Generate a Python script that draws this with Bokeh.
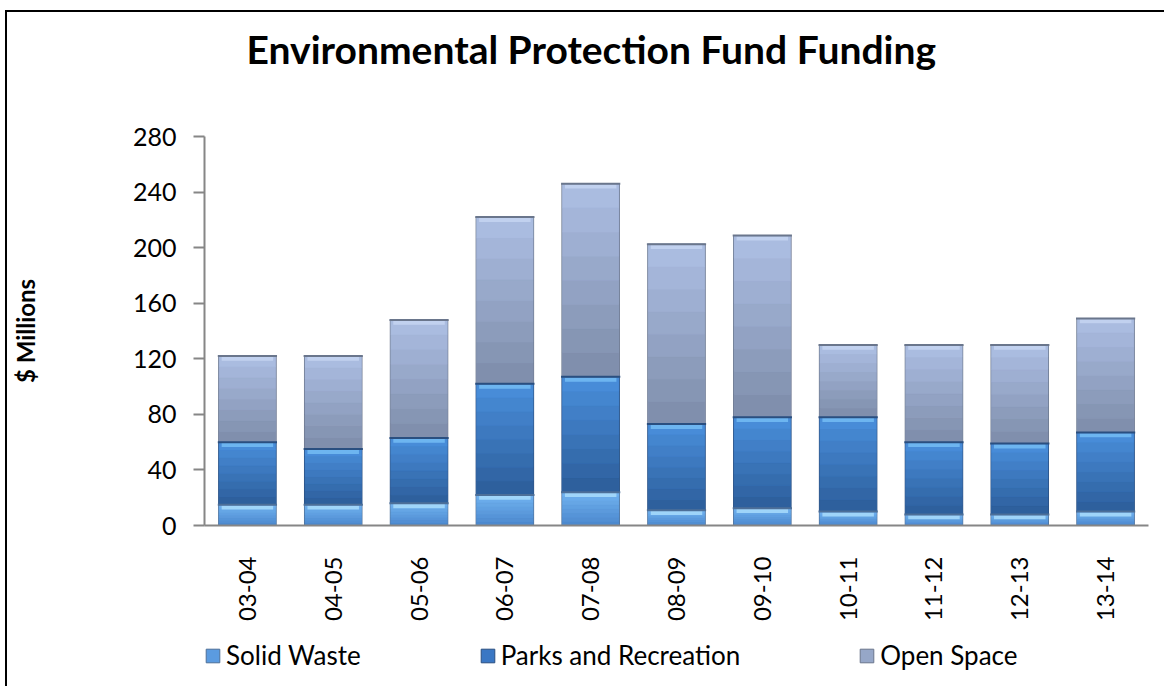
import numpy as np
from bokeh.plotting import figure
from bokeh.layouts import column
from bokeh.models import (FactorRange, Range1d, FixedTicker, Legend, LegendItem,
                          Title, ColumnDataSource)
from bokeh.embed import file_html
from bokeh.resources import INLINE

# ---- data ----
years = ["03-04", "04-05", "05-06", "06-07", "07-08", "08-09",
         "09-10", "10-11", "11-12", "12-13", "13-14"]
solid_waste = [15, 15, 16, 22, 24, 11, 12.5, 10, 8, 8, 10]
parks_rec = [45, 40, 47, 80, 83, 62, 65.5, 68, 52, 51, 57]
open_space = [62, 67, 85, 120, 139, 129.5, 130.7, 52, 70, 71, 82]
series_names = ["Solid Waste", "Parks and Recreation", "Open Space"]
y_ticks = [0, 40, 80, 120, 160, 200, 240, 280]

FONT = "Lato"
fill_colors = ["#5b9be0", "#3a77c4", "#96a7c8"]
line_colors = ["#4d6f98", "#2a4f80", "#6a768c"]
grad_bottom = ["#4a86cc", "#2c5d99", "#7d8ca9"]
grad_top = ["#72b4f1", "#4a8fdc", "#adbfe4"]
hi_colors = ["#a8dcfb", "#74bcf4", "#c6d5f1"]


def mix(c1, c2, f):
    a = [int(c1[i:i + 2], 16) for i in (1, 3, 5)]
    b = [int(c2[i:i + 2], 16) for i in (1, 3, 5)]
    return "#%02x%02x%02x" % tuple(round(a[k] + (b[k] - a[k]) * f) for k in range(3))


sw = np.array(solid_waste, dtype=float)
pr = np.array(parks_rec, dtype=float)
os_ = np.array(open_space, dtype=float)
bottoms = [np.zeros_like(sw), sw, sw + pr]
tops = [sw, sw + pr, sw + pr + os_]

src = ColumnDataSource(dict(year=years, solid=sw, parks=pr, open=os_))

# gradient slices (visual shading of each stacked segment)
n_sl = 8
gx, gt, gb, gc = [], [], [], []
for s in range(3):
    for j, yr in enumerate(years):
        b, t = bottoms[s][j], tops[s][j]
        for k in range(n_sl):
            gx.append(yr)
            gb.append(b + (t - b) * k / n_sl)
            gt.append(b + (t - b) * (k + 1) / n_sl)
            gc.append(mix(grad_bottom[s], grad_top[s], (k + 0.5) / n_sl))
gsrc = ColumnDataSource(dict(x=gx, top=gt, bottom=gb, color=gc))

hband = 3.5
hx, ht, hb, hc = [], [], [], []
for s in range(3):
    for j, yr in enumerate(years):
        hx.append(yr)
        ht.append(tops[s][j] - 0.6)
        hb.append(tops[s][j] - hband)
        hc.append(hi_colors[s])
hsrc = ColumnDataSource(dict(x=hx, top=ht, bottom=hb, color=hc))

sx, sv, sc = [], [], []
for s in range(3):
    for j, yr in enumerate(years):
        sx.append(yr)
        sv.append(tops[s][j])
        sc.append(line_colors[s])
ssrc = ColumnDataSource(dict(x=sx, v=sv, color=sc))

p = figure(x_range=FactorRange(*years), y_range=Range1d(0, 280),
           width=1157, height=625, output_backend="svg", toolbar_location=None,
           min_border_left=196, min_border_right=16, min_border_top=124,
           min_border_bottom=112)
p.outline_line_color = None
p.xgrid.grid_line_color = None
p.ygrid.grid_line_color = None

BW = 0.67
rs = p.vbar_stack(["solid", "parks", "open"], x="year", width=BW, source=src,
                  fill_color=fill_colors, line_color=line_colors, line_width=1)
p.vbar(x="x", top="top", bottom="bottom", width=BW - 0.012, source=gsrc,
       fill_color="color", line_color="color", line_width=0.5)
p.vbar(x="x", top="top", bottom="bottom", width=BW - 0.07, source=hsrc,
       fill_color="color", line_color=None, fill_alpha=0.85)
# segment separators
p.vbar(x="x", top="v", bottom="v", width=BW + 0.02, source=ssrc,
       fill_color=None, line_color="color", line_width=2)

# axes
p.yaxis.ticker = FixedTicker(ticks=y_ticks)
p.yaxis.minor_tick_line_color = None
p.yaxis.major_tick_in = 0
p.yaxis.major_tick_out = 11
p.yaxis.major_tick_line_color = "#868686"
p.yaxis.major_tick_line_width = 2
p.yaxis.axis_line_color = "#868686"
p.yaxis.axis_line_width = 2
p.yaxis.major_label_standoff = 17
p.yaxis.major_label_text_font = FONT
p.yaxis.major_label_text_font_size = "25px"
p.yaxis.major_label_text_color = "black"
p.yaxis.axis_label = "$ Millions"
p.yaxis.axis_label_text_font = FONT
p.yaxis.axis_label_text_font_size = "24px"
p.yaxis.axis_label_text_font_style = "bold"
p.yaxis.axis_label_text_color = "black"
p.yaxis.axis_label_standoff = 90

p.xaxis.major_tick_line_color = None
p.xaxis.minor_tick_line_color = None
p.xaxis.axis_line_color = "#868686"
p.xaxis.axis_line_width = 2
p.xaxis.major_label_orientation = np.pi / 2
p.xaxis.major_label_standoff = 25
p.xaxis.major_label_text_font = FONT
p.xaxis.major_label_text_font_size = "24px"
p.xaxis.major_label_text_color = "black"

# title: a blank spacer next to the frame, then the real title above it
p.add_layout(Title(text=" ", text_font_size="10px", standoff=47), "above")
t = Title(text="Environmental Protection Fund Funding", align="left", offset=42,
          text_font=FONT, text_font_size="39px", text_font_style="bold",
          text_color="black", standoff=10)
p.add_layout(t, "above")

# legend strip below the chart (key swatches are zero-height, off-frame proxies)
p2 = figure(width=1157, height=49, x_range=Range1d(0, 1), y_range=Range1d(1, 2),
            output_backend="svg", toolbar_location=None,
            min_border_left=0, min_border_right=0, min_border_top=0,
            min_border_bottom=0)
p2.axis.visible = False
p2.grid.grid_line_color = None
p2.outline_line_color = None
key_rs = [p2.vbar(x=[0.5], top=[0], bottom=[0], width=0.1,
                  fill_color=fill_colors[i], line_color=line_colors[i])
          for i in range(3)]
leg = Legend(items=[LegendItem(label=series_names[i], renderers=[key_rs[i]]) for i in range(3)],
             location=(0, 15), orientation="horizontal",
             glyph_width=17, glyph_height=17, label_standoff=5, spacing=118,
             label_text_font=FONT, label_text_font_size="26px",
             label_text_color="black", padding=0, margin=0,
             border_line_color=None, background_fill_alpha=0)
p2.add_layout(leg)

layout = column(p, p2, spacing=0,
                styles={"margin-top": "10px", "margin-left": "5px",
                        "border-top": "2px solid black",
                        "border-left": "2px solid black"})

open("out.html", "w").write(file_html(layout, INLINE))
